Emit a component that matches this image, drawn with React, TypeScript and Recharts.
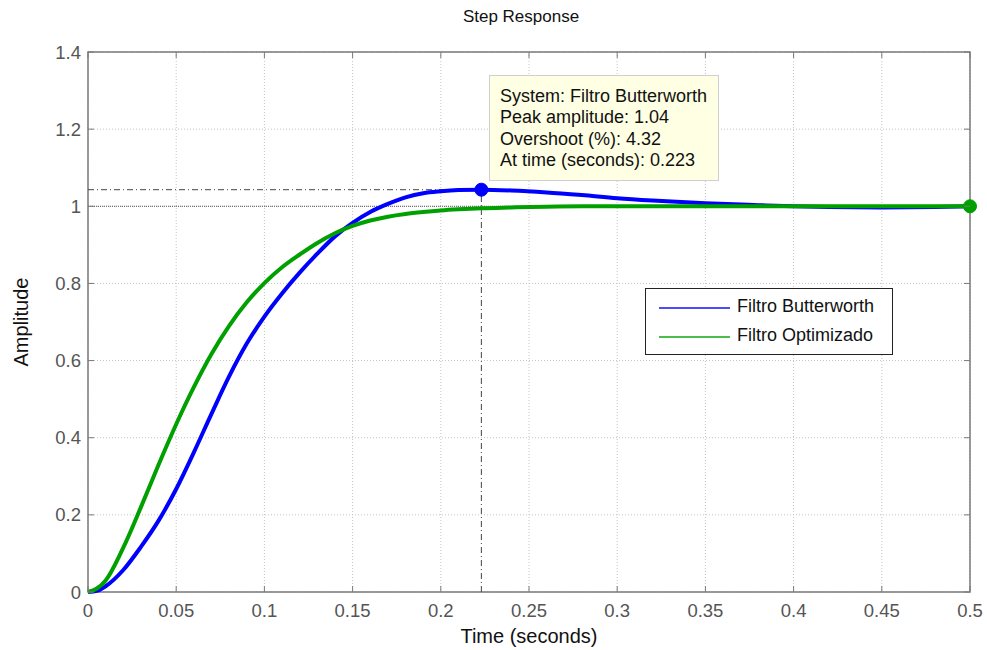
import React from "react";
import {
  LineChart,
  Line,
  XAxis,
  YAxis,
  CartesianGrid,
  ReferenceLine,
  ReferenceDot,
  ReferenceArea,
  Legend,
} from "recharts";

// values (step response, time in seconds)
const time = [
  0, 0.005, 0.01, 0.02, 0.03, 0.04, 0.05, 0.06, 0.07, 0.08, 0.09, 0.1, 0.11, 0.12, 0.13, 0.14, 0.15, 0.16, 0.17,
  0.18, 0.19, 0.2, 0.21, 0.223, 0.24, 0.26, 0.28, 0.3, 0.32, 0.35, 0.38, 0.4, 0.42, 0.45, 0.48, 0.5,
];
const butterworth = [
  0, 0.003, 0.015, 0.057, 0.117, 0.185, 0.267, 0.362, 0.462, 0.559, 0.644, 0.714, 0.774, 0.828, 0.877, 0.922, 0.957,
  0.985, 1.006, 1.023, 1.034, 1.039, 1.042, 1.043, 1.041, 1.036, 1.029, 1.021, 1.015, 1.008, 1.003, 1.0, 0.998, 0.997,
  0.998, 1.0,
];
const optimizado = [
  0, 0.009, 0.03, 0.115, 0.22, 0.33, 0.435, 0.531, 0.617, 0.69, 0.751, 0.801, 0.842, 0.875, 0.905, 0.93, 0.949, 0.963,
  0.973, 0.98, 0.985, 0.989, 0.992, 0.995, 0.997, 0.999, 1.0, 1.0, 1.0, 1.0, 1.0, 1.0, 1.0, 1.0, 1.0, 1.0,
];
const xTicks = [0, 0.05, 0.1, 0.15, 0.2, 0.25, 0.3, 0.35, 0.4, 0.45, 0.5];
const yTicks = [0, 0.2, 0.4, 0.6, 0.8, 1, 1.2, 1.4];
const infoLines = [
  "System: Filtro Butterworth",
  "Peak amplitude: 1.04",
  "Overshoot (%): 4.32",
  "At time (seconds): 0.223",
];

const peakTime = 0.223;
const peakAmp = 1.043;

const data = time.map((t, i) => ({ t, butter: butterworth[i], opt: optimizado[i] }));

const W = 987;
const H = 650;
const margin = { top: 52, right: 17, bottom: 28, left: 28 };
const Y_AXIS_W = 60;
const X_AXIS_H = 30;
const PLOT_LEFT = margin.left + Y_AXIS_W;
const PLOT_RIGHT = W - margin.right;
const PLOT_TOP = margin.top;
const PLOT_BOTTOM = H - margin.bottom - X_AXIS_H;

const FONT = "'Liberation Sans', Arial, sans-serif";
const AXIS = "#7a7a7a";
const TICK = "#555";
const BLUE = "#0000ff";
const GREEN = "#00a000";

const XTick = (props: any) => {
  const { x, y, payload } = props;
  return (
    <g>
      <line x1={x} x2={x} y1={PLOT_BOTTOM} y2={PLOT_BOTTOM - 6} stroke={AXIS} />
      <line x1={x} x2={x} y1={PLOT_TOP} y2={PLOT_TOP + 6} stroke={AXIS} />
      <text x={x} y={y} dy={25} textAnchor="middle" fill={TICK} fontSize={18.5} fontFamily={FONT}>
        {String(payload.value)}
      </text>
    </g>
  );
};

const YTick = (props: any) => {
  const { x, y, payload } = props;
  return (
    <g>
      <line x1={PLOT_LEFT} x2={PLOT_LEFT + 6} y1={y} y2={y} stroke={AXIS} />
      <line x1={PLOT_RIGHT} x2={PLOT_RIGHT - 6} y1={y} y2={y} stroke={AXIS} />
      <text x={x - 7} y={y} dy={6.5} textAnchor="end" fill={TICK} fontSize={18.5} fontFamily={FONT}>
        {String(payload.value)}
      </text>
    </g>
  );
};

const renderLegend = (props: any) => (
  <div
    style={{
      position: "relative",
      width: 248,
      height: 67,
      boxSizing: "border-box",
      border: "1px solid #222",
      background: "#fff",
      fontFamily: FONT,
      fontSize: 18,
      color: "#111",
    }}
  >
    {(props.payload || []).map((entry: any, i: number) => (
      <div key={entry.value}>
        <div
          style={{
            position: "absolute",
            left: 13,
            top: 18 + i * 29,
            width: 71,
            height: 1.5,
            background: entry.color,
            opacity: 0.7,
          }}
        />
        <div style={{ position: "absolute", left: 91, top: 7 + i * 29, lineHeight: "21px", whiteSpace: "nowrap" }}>
          {entry.value}
        </div>
      </div>
    ))}
  </div>
);

export default function App() {
  return (
    <div style={{ position: "absolute", left: 0, top: 0, width: W, height: H, background: "#fff", fontFamily: FONT }}>
      <LineChart width={W} height={H} data={data} margin={margin}>
        <CartesianGrid stroke="#c4c4c4" strokeDasharray="1 2" />
        <XAxis
          dataKey="t"
          type="number"
          domain={[0, 0.5]}
          ticks={xTicks}
          height={X_AXIS_H}
          tickSize={0}
          tickMargin={0}
          axisLine={false}
          tickLine={false}
          tick={<XTick />}
          interval={0}
        />
        <YAxis
          type="number"
          domain={[0, 1.4]}
          ticks={yTicks}
          width={Y_AXIS_W}
          tickSize={0}
          tickMargin={0}
          axisLine={false}
          tickLine={false}
          tick={<YTick />}
          interval={0}
        />
        <ReferenceArea x1={0} x2={0.5} y1={0} y2={1.4} fill="none" stroke={AXIS} strokeWidth={1.5} />
        <ReferenceLine y={1} stroke="#555" strokeDasharray="1 1" />
        <ReferenceLine
          segment={[
            { x: 0, y: peakAmp },
            { x: peakTime, y: peakAmp },
          ]}
          stroke="#444"
          strokeDasharray="6 3 1 3"
        />
        <ReferenceLine
          segment={[
            { x: peakTime, y: 0 },
            { x: peakTime, y: peakAmp },
          ]}
          stroke="#444"
          strokeDasharray="6 3 1 3"
        />
        <Line
          type="monotone"
          dataKey="butter"
          name="Filtro Butterworth"
          stroke={BLUE}
          strokeWidth={4}
          dot={false}
          isAnimationActive={false}
        />
        <Line
          type="monotone"
          dataKey="opt"
          name="Filtro Optimizado"
          stroke={GREEN}
          strokeWidth={4}
          dot={false}
          isAnimationActive={false}
        />
        <ReferenceDot x={peakTime} y={peakAmp} r={6.5} fill={BLUE} stroke={BLUE} />
        <ReferenceDot x={0.5} y={1} r={6.5} fill={GREEN} stroke={GREEN} />
        <Legend
          layout="vertical"
          align="center"
          verticalAlign="middle"
          content={renderLegend}
          wrapperStyle={{ left: 645, top: 288, right: "auto", bottom: "auto", width: 248, height: 67 }}
        />
      </LineChart>

      <svg
        width={W}
        height={H}
        style={{ position: "absolute", left: 0, top: 0, pointerEvents: "none" }}
      >
        <text x={521} y={22} textAnchor="middle" fontSize={17} fontFamily={FONT} fill="#111">
          Step Response
        </text>
        <text x={(PLOT_LEFT + PLOT_RIGHT) / 2} y={643} textAnchor="middle" fontSize={20} fontFamily={FONT} fill="#111">
          Time (seconds)
        </text>
        <text
          x={0}
          y={0}
          transform={`translate(28, ${(PLOT_TOP + PLOT_BOTTOM) / 2}) rotate(-90)`}
          textAnchor="middle"
          fontSize={20}
          fontFamily={FONT}
          fill="#111"
        >
          Amplitude
        </text>
      </svg>

      <div
        style={{
          position: "absolute",
          left: 489,
          top: 75,
          width: 230,
          height: 106,
          boxSizing: "border-box",
          background: "#ffffe3",
          border: "1px solid #cfcfcf",
          paddingLeft: 10,
          paddingTop: 10,
          fontSize: 18,
          lineHeight: "21.3px",
          color: "#111",
          whiteSpace: "nowrap",
        }}
      >
        {infoLines.map((s) => (
          <div key={s}>{s}</div>
        ))}
      </div>
    </div>
  );
}
